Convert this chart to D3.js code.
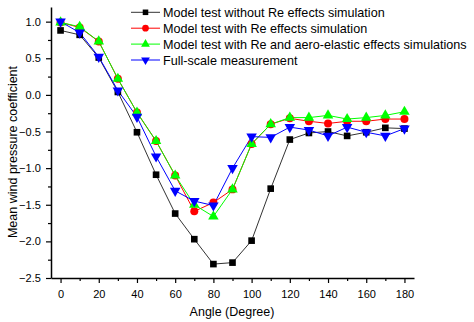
<!DOCTYPE html>
<html>
<head>
<meta charset="utf-8">
<script src="https://d3js.org/d3.v7.min.js"></script>
<style>
  body { margin: 0; background: #fff; }
  svg { display: block; font-family: 'Liberation Sans', Arial, sans-serif; }
</style>
</head>
<body>
<script>
const angles = [0, 10, 20, 30, 40, 50, 60, 70, 80, 90, 100, 110, 120, 130, 140, 150, 160, 170, 180];

const noRe = [0.88, 0.82, 0.51, 0.04, -0.51, -1.09, -1.62, -1.97, -2.31, -2.29, -1.99, -1.28, -0.61, -0.52, -0.50, -0.56, -0.51, -0.45, -0.46];
const withRe = [0.99, 0.92, 0.73, 0.22, -0.24, -0.63, -1.10, -1.59, -1.47, -1.29, -0.67, -0.40, -0.32, -0.36, -0.39, -0.36, -0.36, -0.33, -0.33];
const withReAero = [0.99, 0.93, 0.73, 0.22, -0.24, -0.63, -1.10, -1.50, -1.66, -1.29, -0.67, -0.40, -0.31, -0.31, -0.28, -0.33, -0.31, -0.28, -0.23];
const fullScale = [1.00, 0.85, 0.52, 0.06, -0.30, -0.84, -1.31, -1.45, -1.51, -1.00, -0.57, -0.58, -0.44, -0.48, -0.56, -0.44, -0.51, -0.56, -0.46];

const xTicks = [0, 20, 40, 60, 80, 100, 120, 140, 160, 180];
const yTicks = [-2.5, -2.0, -1.5, -1.0, -0.5, 0.0, 0.5, 1.0];

const series = [
  { name: 'Model test without Re effects simulation', values: noRe, line: '#333', fill: '#000', symbol: d3.symbolSquare, size: 44 },
  { name: 'Model test with Re effects simulation', values: withRe, line: '#ff0000', fill: '#ff0000', symbol: d3.symbolCircle, size: 50 },
  { name: 'Model test with Re and aero-elastic effects simulations', values: withReAero, line: '#00ff00', fill: '#00ff00', symbol: d3.symbolTriangle, size: 48 },
  { name: 'Full-scale measurement', values: fullScale, line: '#0000ff', fill: '#0000ff', symbol: d3.symbolTriangle, size: 48, flip: true }
];

const width = 474, height = 322;
const svg = d3.select('body').append('svg').attr('width', width).attr('height', height);

const x = d3.scaleLinear().domain([-5, 185]).range([51, 414]);
const y = d3.scaleLinear().domain([-2.5, 1.2]).range([278, 7]);

// axes
const xAxis = svg.append('g').attr('transform', `translate(0,${y(-2.5)})`)
  .call(d3.axisBottom(x).tickValues(xTicks).tickSize(5).tickSizeOuter(0).tickFormat(d3.format('d')));
svg.append('g').attr('transform', `translate(0,${y(-2.5)})`)
  .call(d3.axisBottom(x).tickValues(d3.range(10, 180, 20)).tickSize(3).tickFormat(''))
  .call(g => g.select('.domain').remove());

const yAxis = svg.append('g').attr('transform', `translate(${x(-5)},0)`)
  .call(d3.axisLeft(y).tickValues(yTicks).tickSize(5).tickSizeOuter(0).tickFormat(d3.format('.1f')));
svg.append('g').attr('transform', `translate(${x(-5)},0)`)
  .call(d3.axisLeft(y).tickValues(d3.range(-2.25, 1.2, 0.5)).tickSize(3).tickFormat(''))
  .call(g => g.select('.domain').remove());

svg.selectAll('.domain').attr('stroke', '#000').attr('stroke-width', 1.5);
svg.selectAll('.tick line').attr('stroke', '#000').attr('stroke-width', 1.2);
svg.selectAll('.tick text').attr('font-size', 11).attr('fill', '#000')
  .attr('font-family', "'Liberation Sans', Arial, sans-serif");
xAxis.selectAll('.tick text').attr('dy', '1.1em');
yAxis.selectAll('.tick text').attr('dx', '-0.2em');

// axis titles
svg.append('text').attr('x', 232).attr('y', 316).attr('text-anchor', 'middle')
  .attr('font-size', 12.5).text('Angle (Degree)');
svg.append('text').attr('transform', 'translate(17,152) rotate(-90)').attr('text-anchor', 'middle')
  .attr('font-size', 12.5).text('Mean wind pressure coefficient');

// series
const line = d3.line().x((d, i) => x(angles[i])).y(d => y(d));
series.forEach(s => {
  svg.append('path').datum(s.values).attr('d', line)
    .attr('fill', 'none').attr('stroke', s.line).attr('stroke-width', 1);
});
series.forEach(s => {
  svg.append('g').selectAll('path').data(s.values).join('path')
    .attr('d', d3.symbol().type(s.symbol).size(s.size))
    .attr('transform', (d, i) => `translate(${x(angles[i])},${y(d)})${s.flip ? ' rotate(180)' : ''}`)
    .attr('fill', s.fill);
});

// legend
const legend = svg.append('g');
series.forEach((s, i) => {
  const ly = 12.3 + i * 15.9;
  legend.append('line').attr('x1', 131).attr('x2', 160).attr('y1', ly).attr('y2', ly)
    .attr('stroke', s.line).attr('stroke-width', 1);
  legend.append('path').attr('d', d3.symbol().type(s.symbol).size(s.size * 0.7))
    .attr('transform', `translate(145.5,${ly})${s.flip ? ' rotate(180)' : ''}`)
    .attr('fill', s.fill);
  legend.append('text').attr('x', 163).attr('y', ly).attr('dy', '0.36em')
    .attr('font-size', 12.6).text(s.name);
});
</script>
</body>
</html>
